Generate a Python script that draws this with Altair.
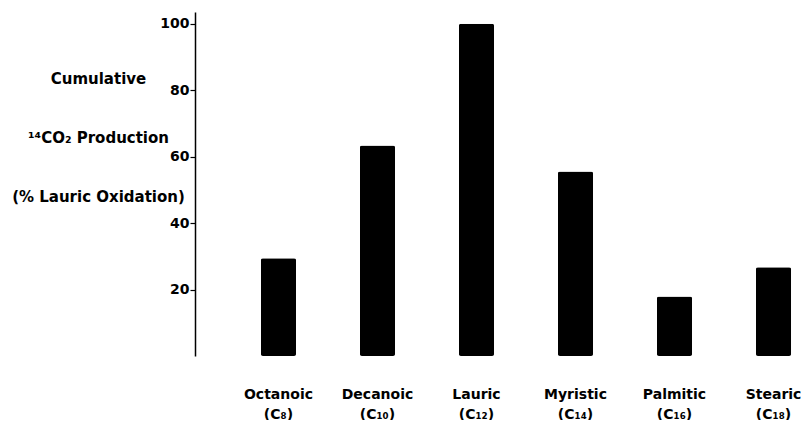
import altair as alt
import pandas as pd

acids = ["Octanoic", "Decanoic", "Lauric", "Myristic", "Palmitic", "Stearic"]
chains = ["(C₈)", "(C₁₀)", "(C₁₂)", "(C₁₄)", "(C₁₆)", "(C₁₈)"]
values = [29.4, 63.3, 100.0, 55.5, 17.9, 26.7]
y_ticks = [20, 40, 60, 80, 100]
y_title = ["Cumulative", "¹⁴CO₂ Production", "(% Lauric Oxidation)"]

df = pd.DataFrame({
    "acid": [f"{a}|{c}" for a, c in zip(acids, chains)],
    "value": values,
})

FONT = "DejaVu Sans"

chart = alt.Chart(df).mark_bar(color="black", cornerRadius=2).encode(
    x=alt.X(
        "acid:N",
        sort=None,
        scale=alt.Scale(paddingInner=0.645, paddingOuter=0.3525, align=0.944),
        axis=alt.Axis(
            title=None,
            domain=False,
            ticks=False,
            labelAngle=0,
            labelExpr="split(datum.value, '|')",
            labelFont=FONT,
            labelFontWeight="bold",
            labelFontSize=14,
            labelColor="black",
            labelPadding=31,
            labelLineHeight=20,
            labelBaseline="top",
            labelOverlap=False,
            labelBound=False,
        ),
    ),
    y=alt.Y(
        "value:Q",
        scale=alt.Scale(domain=[0, 103.5], nice=False),
        axis=alt.Axis(
            values=y_ticks,
            grid=False,
            domainColor="black",
            domainWidth=1.5,
            tickColor="black",
            tickSize=5,
            tickWidth=1.2,
            labelFont=FONT,
            labelFontWeight="bold",
            labelFontSize=14,
            labelColor="black",
            labelPadding=1,
            title=y_title,
            titleAngle=0,
            titleAlign="center",
            titleBaseline="alphabetic",
            titleX=-97,
            titleY=71,
            titleFont=FONT,
            titleFontWeight="bold",
            titleFontSize=15,
            titleColor="black",
            titleLineHeight=59,
        ),
    ),
).properties(
    width=600,
    height=344,
    autosize=alt.AutoSizeParams(type="none"),
    padding={"left": 187, "top": 4, "right": 8, "bottom": 64},
).configure(background="white").configure_view(stroke=None, strokeWidth=0)

chart.save("out.html", embed_options={"renderer": "svg", "actions": False})
